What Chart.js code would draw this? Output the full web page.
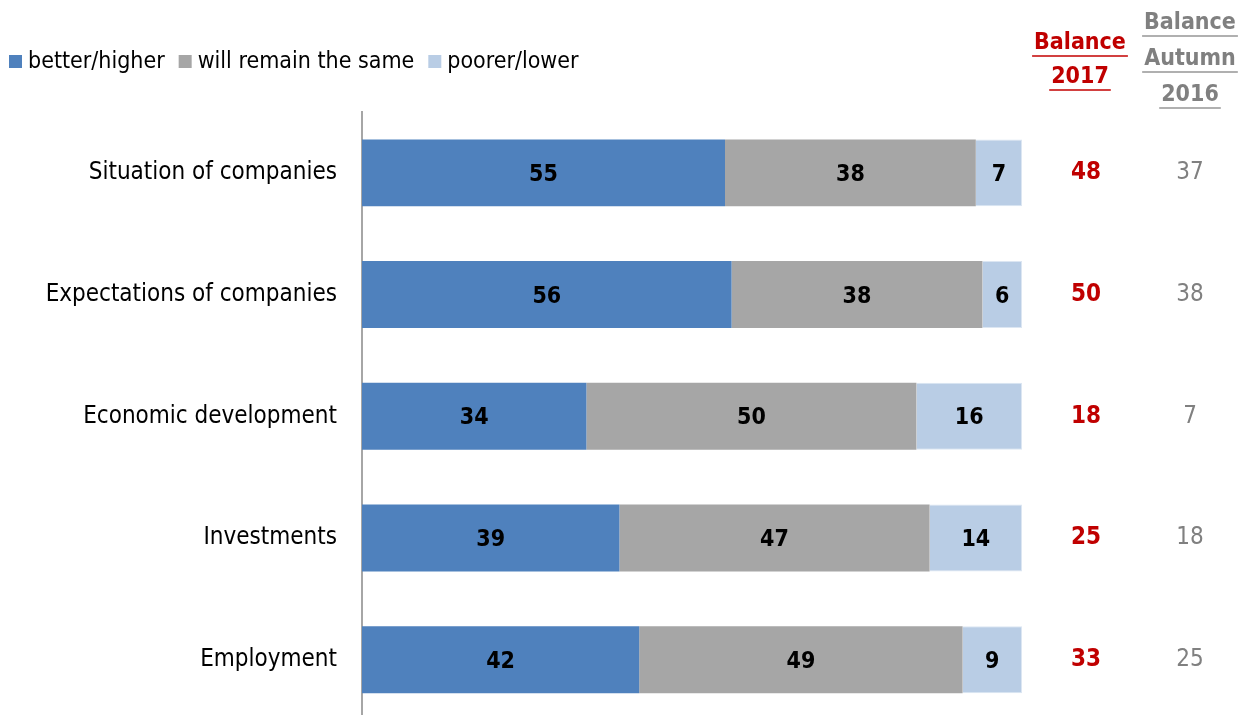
<!DOCTYPE html>
<html>
<head>
<meta charset="utf-8">
<script src="https://cdn.jsdelivr.net/npm/chart.js@4"></script>
<style>
  html, body { margin: 0; padding: 0; background: #fff; overflow: hidden; }
  canvas { display: block; }
</style>
</head>
<body>
<canvas id="chart" width="1239" height="752"></canvas>
<script>
// Data
const categories = ['Situation of companies', 'Expectations of companies', 'Economic development', 'Investments', 'Employment'];
const better = [55, 56, 34, 39, 42];
const same = [38, 38, 50, 47, 49];
const poorer = [7, 6, 16, 14, 9];
const balance2017 = [48, 50, 18, 25, 33];
const balance2016 = [37, 38, 7, 18, 25];
const seriesNames = ['better/higher', 'will remain the same', 'poorer/lower'];
const seriesColors = ['#4f81bd', '#a6a6a6', '#b9cde5'];

const FONT = '"DejaVu Sans Condensed", "DejaVu Sans", sans-serif';

// Labels, balance columns and legend drawn on top of the chart
const extras = {
  id: 'extras',
  afterDatasetsDraw(chart) {
    const ctx = chart.ctx;
    const yScale = chart.scales.y;
    ctx.save();
    // value labels in the bars
    ctx.font = 'bold 23px ' + FONT;
    ctx.fillStyle = '#000';
    ctx.textAlign = 'center';
    ctx.textBaseline = 'middle';
    chart.data.datasets.forEach((ds, di) => {
      chart.getDatasetMeta(di).data.forEach((bar, i) => {
        const p = bar.getProps(['x', 'base', 'y']);
        ctx.fillText(ds.data[i], (p.x + p.base) / 2, p.y + 2);
      });
    });
    // balance columns
    categories.forEach((c, i) => {
      const y = yScale.getPixelForValue(i);
      ctx.font = 'bold 24px ' + FONT;
      ctx.fillStyle = '#c00000';
      ctx.fillText(balance2017[i], 1086, y);
      ctx.font = '24px ' + FONT;
      ctx.fillStyle = '#808080';
      ctx.fillText(balance2016[i], 1190, y);
    });
    // column headers (underlined)
    const header = (lines, cx, ys, color, lineColor) => {
      ctx.font = 'bold 23px ' + FONT;
      ctx.fillStyle = color;
      ctx.strokeStyle = lineColor;
      ctx.lineWidth = 2;
      lines.forEach((t, k) => {
        ctx.fillText(t, cx, ys[k]);
        const w = ctx.measureText(t).width;
        ctx.beginPath();
        ctx.moveTo(cx - w / 2 - 2, ys[k] + 13);
        ctx.lineTo(cx + w / 2 + 2, ys[k] + 13);
        ctx.stroke();
      });
    };
    header(['Balance', '2017'], 1080, [43, 77], '#c00000', '#d24040');
    header(['Balance', 'Autumn', '2016'], 1190, [23, 59, 95], '#808080', '#b0b0b0');
    // legend
    ctx.font = '23px ' + FONT;
    ctx.textAlign = 'left';
    let x = 9;
    seriesNames.forEach((n, k) => {
      ctx.fillStyle = seriesColors[k];
      ctx.fillRect(x, 55, 13, 13);
      ctx.fillStyle = '#000';
      ctx.fillText(n, x + 19, 62);
      x += 19 + ctx.measureText(n).width + 14;
    });
    ctx.restore();
  }
};

const datasets = [better, same, poorer].map((d, k) => ({
  label: seriesNames[k],
  data: d,
  backgroundColor: seriesColors[k],
  borderColor: k === 2 ? '#dce6f2' : seriesColors[k],
  borderWidth: k === 2 ? 1 : 0,
  barPercentage: 0.55,
  categoryPercentage: 1
}));

new Chart(document.getElementById('chart'), {
  type: 'bar',
  data: { labels: categories, datasets: datasets },
  options: {
    indexAxis: 'y',
    responsive: false,
    animation: false,
    layout: { padding: { left: 0, top: 112, right: 217, bottom: 5 } },
    plugins: { legend: { display: false }, tooltip: { enabled: false } },
    scales: {
      x: { stacked: true, min: 0, max: 100, display: false },
      y: {
        stacked: true,
        grid: { display: false },
        border: { display: true, color: '#a6a6a6', width: 2 },
        ticks: { color: '#000', font: { family: FONT, size: 24 }, padding: 17 },
        afterFit(scale) { scale.width = 362; }
      }
    }
  },
  plugins: [extras]
});
</script>
</body>
</html>
